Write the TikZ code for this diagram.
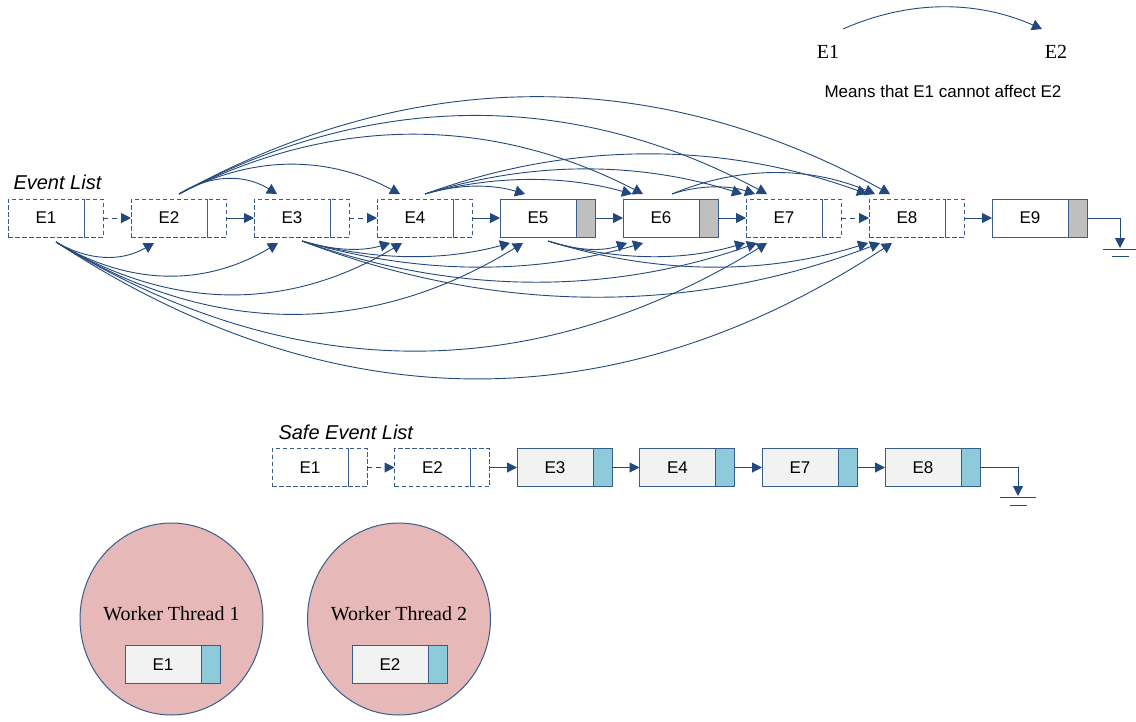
\documentclass[tikz,border=0pt]{standalone}
\usepackage{fontspec}
\setmainfont{Liberation Sans}
\newfontfamily\serifface{Liberation Serif}
\usetikzlibrary{arrows.meta,calc,shapes.geometric}

\definecolor{edge}{RGB}{56,93,138}
\definecolor{wire}{RGB}{35,72,125}
\definecolor{slotgray}{RGB}{191,191,191}
\definecolor{slotblue}{RGB}{142,203,218}
\definecolor{cellfill}{RGB}{242,242,242}
\definecolor{threadfill}{RGB}{230,184,183}

\tikzset{
  cell/.style={draw=edge, line width=1pt, minimum width=76pt, minimum height=38pt,
    inner sep=0pt, outer sep=0pt, anchor=west, font=\fontsize{17pt}{20pt}\selectfont},
  slot/.style={draw=edge, line width=1pt, minimum width=19pt, minimum height=38pt,
    inner sep=0pt, outer sep=0pt, anchor=west},
  ghost/.style={dash pattern=on 4.5pt off 2.5pt},
  link/.style={draw=wire, line width=1pt, -{Triangle[length=10pt,width=10pt]}},
  dlink/.style={link, dash pattern=on 5pt off 4pt},
  arc/.style={draw=wire, line width=0.9pt, -{Triangle[length=10pt,width=11pt]}},
  earth/.style={draw=wire, line width=1pt},
  thread/.style={ellipse, draw=edge, line width=1pt, fill=threadfill,
    minimum width=183pt, minimum height=192pt, inner sep=0pt},
  title/.style={anchor=base west, font=\fontsize{20pt}{24pt}\selectfont\itshape},
}

% arc over the list: source point, target event, landing offset, spread, lift
\newcommand\evtoparc[5]{%
  \coordinate (tip) at ($(#2.north)+(#3,-5)$);
  \draw[arc] (#1) .. controls ($(#1)+(#4,-#5)$) and ($(tip)+(-#4,-#5)$) .. (tip);}
% arc under the list: source point, target event, landing offset, spread, drop
\newcommand\evbotarc[5]{%
  \coordinate (tip) at ($(#2.south)+(#3,6)$);
  \draw[arc] (#1) .. controls ($(#1)+(#4,#5)$) and ($(tip)+(-#4,#5)$) .. (tip);}

\begin{document}
\begin{tikzpicture}[x=1pt,y=-1pt]
\useasboundingbox (0,0) rectangle (1136,721);

% ---------- legend ----------
\node[font=\serifface\fontsize{20pt}{24pt}\selectfont] (L1) at (828,52) {E1};
\node[font=\serifface\fontsize{20pt}{24pt}\selectfont] (L2) at (1056,52) {E2};
\coordinate (lgA) at (843,29);
\coordinate (lgB) at (1042,29);
\draw[arc] (lgA) .. controls ($(lgA)+(66,-29)$) and ($(lgB)+(-66,-29)$) .. (lgB);
\node[font=\fontsize{17pt}{20pt}\selectfont] (LT) at (943,91) {Means that E1 cannot affect E2};

% ---------- event list ----------
\node[title] (EL) at (10,189) {Event List};

\node[cell,ghost] (E1) at (8,218) {E1};
\node[slot,ghost] (P1) at (E1.east) {};
\node[cell,ghost] (E2) at (131,218) {E2};
\node[slot,ghost] (P2) at (E2.east) {};
\node[cell,ghost] (E3) at (254,218) {E3};
\node[slot,ghost] (P3) at (E3.east) {};
\node[cell,ghost] (E4) at (377,218) {E4};
\node[slot,ghost] (P4) at (E4.east) {};
\node[cell,fill=white] (E5) at (500,218) {E5};
\node[slot,fill=slotgray] (P5) at (E5.east) {};
\node[cell,fill=white] (E6) at (623,218) {E6};
\node[slot,fill=slotgray] (P6) at (E6.east) {};
\node[cell,ghost] (E7) at (746,218) {E7};
\node[slot,ghost] (P7) at (E7.east) {};
\node[cell,ghost] (E8) at (869,218) {E8};
\node[slot,ghost] (P8) at (E8.east) {};
\node[cell,fill=white] (E9) at (992,218) {E9};
\node[slot,fill=slotgray] (P9) at (E9.east) {};

\draw[dlink] (P1.east) -- (E2.west);
\draw[link]  (P2.east) -- (E3.west);
\draw[dlink] (P3.east) -- (E4.west);
\draw[link]  (P4.east) -- (E5.west);
\draw[link]  (P5.east) -- (E6.west);
\draw[link]  (P6.east) -- (E7.west);
\draw[dlink] (P7.east) -- (E8.west);
\draw[link]  (P8.east) -- (E9.west);

% end of list
\coordinate (G1) at (1120,248);
\draw[link] (P9.east) -| (G1);
\draw[earth] (1103,249) -- (1137,249);
\draw[earth] (1112,256) -- (1129,256);

% arcs above the list
\coordinate (E2up) at ($(E2.north)+(10,-5)$);
\coordinate (E4up) at ($(E4.north)+(10,-5)$);
\coordinate (E6up) at ($(E6.north)+(11,-5)$);
\evtoparc{E2up}{E3}{-15}{32}{20}
\evtoparc{E2up}{E4}{-15}{73}{39}
\evtoparc{E2up}{E6}{-18}{153}{79}
\evtoparc{E2up}{E7}{-17}{194}{104}
\evtoparc{E2up}{E8}{-17}{235}{129}
\evtoparc{E4up}{E5}{-13}{33}{10}
\evtoparc{E4up}{E6}{-29}{68}{19}
\evtoparc{E4up}{E7}{-42}{105}{33}
\evtoparc{E4up}{E8}{-40}{146}{53}
\evtoparc{E6up}{E7}{-29}{27}{9}
\evtoparc{E6up}{E8}{-32}{67}{28}

% arcs below the list
\coordinate (E1dn) at ($(E1.south)+(10,5)$);
\coordinate (E3dn) at ($(E3.south)+(10,4)$);
\coordinate (E5dn) at ($(E5.south)+(10,4)$);
\evbotarc{E1dn}{E2}{-15}{33}{19}
\evbotarc{E1dn}{E3}{-14}{73}{44}
\evbotarc{E1dn}{E4}{-13}{114}{69}
\evbotarc{E1dn}{E5}{-15}{154}{95}
\evbotarc{E1dn}{E7}{-17}{235}{144}
\evbotarc{E1dn}{E8}{-15}{276}{181}
\evbotarc{E3dn}{E4}{-25}{29}{9}
\evbotarc{E3dn}{E5}{-28}{69}{19}
\evbotarc{E3dn}{E6}{-18}{113}{33}
\evbotarc{E3dn}{E7}{-27}{150}{53}
\evbotarc{E3dn}{E8}{-27}{191}{73}
\evbotarc{E5dn}{E6}{-34}{26}{9}
\evbotarc{E5dn}{E7}{-39}{65}{19}
\evbotarc{E5dn}{E8}{-39}{106}{33}

% ---------- safe event list ----------
\node[title] (SL) at (275,439) {Safe Event List};

\node[cell,ghost] (S1) at (272,467.5) {E1};
\node[slot,ghost] (Q1) at (S1.east) {};
\node[cell,ghost] (S2) at (394.5,467.5) {E2};
\node[slot,ghost] (Q2) at (S2.east) {};
\node[cell,fill=cellfill] (S3) at (517,467.5) {E3};
\node[slot,fill=slotblue] (Q3) at (S3.east) {};
\node[cell,fill=cellfill] (S4) at (639.5,467.5) {E4};
\node[slot,fill=slotblue] (Q4) at (S4.east) {};
\node[cell,fill=cellfill] (S7) at (762,467.5) {E7};
\node[slot,fill=slotblue] (Q7) at (S7.east) {};
\node[cell,fill=cellfill] (S8) at (885,467.5) {E8};
\node[slot,fill=slotblue] (Q8) at (S8.east) {};

\draw[dlink] (Q1.east) -- (S2.west);
\draw[link]  (Q2.east) -- (S3.west);
\draw[link]  (Q3.east) -- (S4.west);
\draw[link]  (Q4.east) -- (S7.west);
\draw[link]  (Q7.east) -- (S8.west);

\coordinate (G2) at (1018,496);
\draw[link] (Q8.east) -| (G2);
\draw[earth] (1000,497) -- (1036,497);
\draw[earth] (1010,505) -- (1027,505);

% ---------- worker threads ----------
\node[thread] (T1) at (171.5,619) {};
\node[thread] (T2) at (399,619) {};
\node[font=\serifface\fontsize{20pt}{24pt}\selectfont] (T1l) at (171.5,614) {Worker Thread 1};
\node[font=\serifface\fontsize{20pt}{24pt}\selectfont] (T2l) at (399,614) {Worker Thread 2};
\node[cell,fill=cellfill] (W1) at (125,664.5) {E1};
\node[slot,fill=slotblue] (W1s) at (W1.east) {};
\node[cell,fill=cellfill] (W2) at (352,664.5) {E2};
\node[slot,fill=slotblue] (W2s) at (W2.east) {};
\end{tikzpicture}
\end{document}
